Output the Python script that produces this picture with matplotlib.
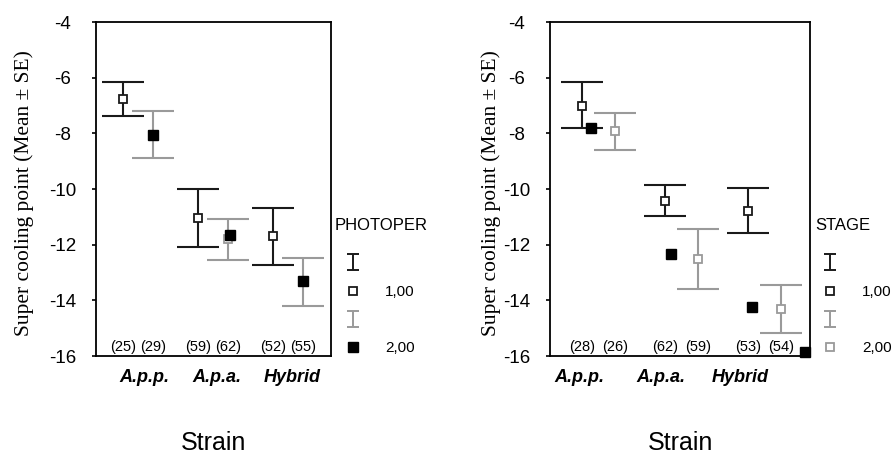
import matplotlib
matplotlib.use("Agg")
import matplotlib.pyplot as plt
from matplotlib.lines import Line2D
from matplotlib.path import Path
from matplotlib.legend_handler import HandlerTuple

plt.rcParams['font.family'] = ['Liberation Sans', 'DejaVu Sans']
plt.rcParams['axes.unicode_minus'] = False

strains = ['A.p.p.', 'A.p.a.', 'Hybrid']

# PHOTOPER panel
photo1_mean = [-6.77, -11.04, -11.69]
photo1_lo = [-7.37, -12.08, -12.72]
photo1_hi = [-6.15, -10.00, -10.69]
photo2_mean = [-8.04, -11.80, -13.34]
photo2_lo = [-8.88, -12.54, -14.20]
photo2_hi = [-7.20, -11.09, -12.48]
photo_filled = [-8.06, -11.66, -13.30]
photo_n = ['(25)', '(29)', '(59)', '(62)', '(52)', '(55)']

# STAGE panel
stage1_mean = [-7.02, -10.44, -10.79]
stage1_lo = [-7.80, -10.98, -11.58]
stage1_hi = [-6.15, -9.86, -9.95]
stage2_mean = [-7.92, -12.50, -14.30]
stage2_lo = [-8.58, -13.58, -15.16]
stage2_hi = [-7.28, -11.42, -13.44]
stage_filled = [-7.80, -12.32, -14.24, -15.86]
stage_n = ['(28)', '(26)', '(62)', '(59)', '(53)', '(54)']

black = '#1a1a1a'
gray = '#9a9a9a'

# I-beam marker for the legend
ibeam = Path([(-0.35, 0.5), (0.35, 0.5), (0, 0.5), (0, -0.5), (-0.35, -0.5), (0.35, -0.5)],
             [Path.MOVETO, Path.LINETO, Path.MOVETO, Path.LINETO, Path.MOVETO, Path.LINETO])

fig = plt.figure(figsize=(8.93, 4.58), dpi=100)
ax1 = fig.add_axes([0.1075, 0.2227, 0.263, 0.729])
ax2 = fig.add_axes([0.616, 0.2227, 0.291, 0.729])


def panel(ax, m1, lo1, hi1, m2, lo2, hi2, n_labels, xlim):
    g = [1, 2, 3]
    x1 = [v - 0.2 for v in g]
    x2 = [v + 0.2 for v in g]
    ax.errorbar(x1, m1, yerr=[[m - l for m, l in zip(m1, lo1)], [h - m for m, h in zip(m1, hi1)]],
                fmt='none', ecolor=black, elinewidth=1.5, capsize=15, capthick=1.5)
    ax.errorbar(x2, m2, yerr=[[m - l for m, l in zip(m2, lo2)], [h - m for m, h in zip(m2, hi2)]],
                fmt='none', ecolor=gray, elinewidth=1.5, capsize=15, capthick=1.5)
    ax.plot(x1, m1, 's', ms=5.5, mfc='white', mec=black, mew=1.3, ls='none')
    ax.plot(x2, m2, 's', ms=5.5, mfc='white', mec=gray, mew=1.3, ls='none')
    xs = [v for pair in zip(x1, x2) for v in pair]
    for x, t in zip(xs, n_labels):
        ax.text(x, -15.68, t, ha='center', va='center', fontsize=10.5)
    ax.set_xlim(*xlim)
    ax.set_ylim(-16, -4)
    ax.set_yticks([-4, -6, -8, -10, -12, -14, -16])
    ax.tick_params(axis='y', length=3, width=1.2, labelsize=13.5, pad=21)
    for lab in ax.get_yticklabels():
        lab.set_horizontalalignment('center')
    for s in ax.spines.values():
        s.set_linewidth(1.3)
    ax.set_ylabel('Super cooling point (Mean ± SE)', family='Liberation Serif', fontsize=15.5)


panel(ax1, photo1_mean, photo1_lo, photo1_hi, photo2_mean, photo2_lo, photo2_hi, photo_n, (0.44, 3.57))
ax1.plot([1.2, 2.23, 3.2], photo_filled, 's', ms=7.5, color='black', ls='none')
ax1.set_xticks([1.09, 2.05, 3.05], strains)
ax1.yaxis.set_label_coords(-0.262, 0.487)
ax1.xaxis.set_label_coords(0.472, -0.225)

panel(ax2, stage1_mean, stage1_lo, stage1_hi, stage2_mean, stage2_lo, stage2_hi, stage_n, (0.41, 3.55))
ax2.plot([0.9, 1.867, 2.85, 3.49], stage_filled, 's', ms=7.5, color='black', ls='none', clip_on=False)
ax2.set_xticks([0.76, 1.75, 2.71], strains)
ax2.yaxis.set_label_coords(-0.187, 0.487)
ax2.xaxis.set_label_coords(0.48, -0.225)

for ax in (ax1, ax2):
    ax.tick_params(axis='x', length=0, pad=9)
    for lab in ax.get_xticklabels():
        lab.set_fontweight('bold')
        lab.set_fontstyle('italic')
        lab.set_fontsize(13)
    ax.set_xlabel('Strain', fontsize=18)

# legends
i_black = Line2D([], [], ls='none', marker=ibeam, ms=12, mec=black, mew=1.4)
i_gray = Line2D([], [], ls='none', marker=ibeam, ms=12, mec=gray, mew=1.4)
sq_black = Line2D([], [], ls='none', marker='s', ms=5.5, mfc='white', mec=black, mew=1.3)
sq_gray = Line2D([], [], ls='none', marker='s', ms=5.5, mfc='white', mec=gray, mew=1.3)
sq_fill = Line2D([], [], ls='none', marker='s', ms=7.5, color='black')

ax1.text(1.017, 0.392, 'PHOTOPER', transform=ax1.transAxes, ha='left', va='center', fontsize=12)
ax1.legend([i_black, sq_black, i_gray, (sq_gray, sq_fill)], ['', '1,00', '', '2,00'],
           handler_map={tuple: HandlerTuple(ndivide=1, pad=0)},
           loc='upper left', bbox_to_anchor=(1.045, 0.297), frameon=False, fontsize=11,
           labelspacing=0.92, handlelength=1.5, handletextpad=1.35, borderaxespad=0, borderpad=0)

ax2.text(1.019, 0.392, 'STAGE', transform=ax2.transAxes, ha='left', va='center', fontsize=12)
ax2.legend([i_black, sq_black, i_gray, sq_gray], ['', '1,00', '', '2,00'],
           loc='upper left', bbox_to_anchor=(1.033, 0.297), frameon=False, fontsize=11,
           labelspacing=0.92, handlelength=1.5, handletextpad=1.35, borderaxespad=0, borderpad=0)

fig.savefig('out.png', dpi=100)
